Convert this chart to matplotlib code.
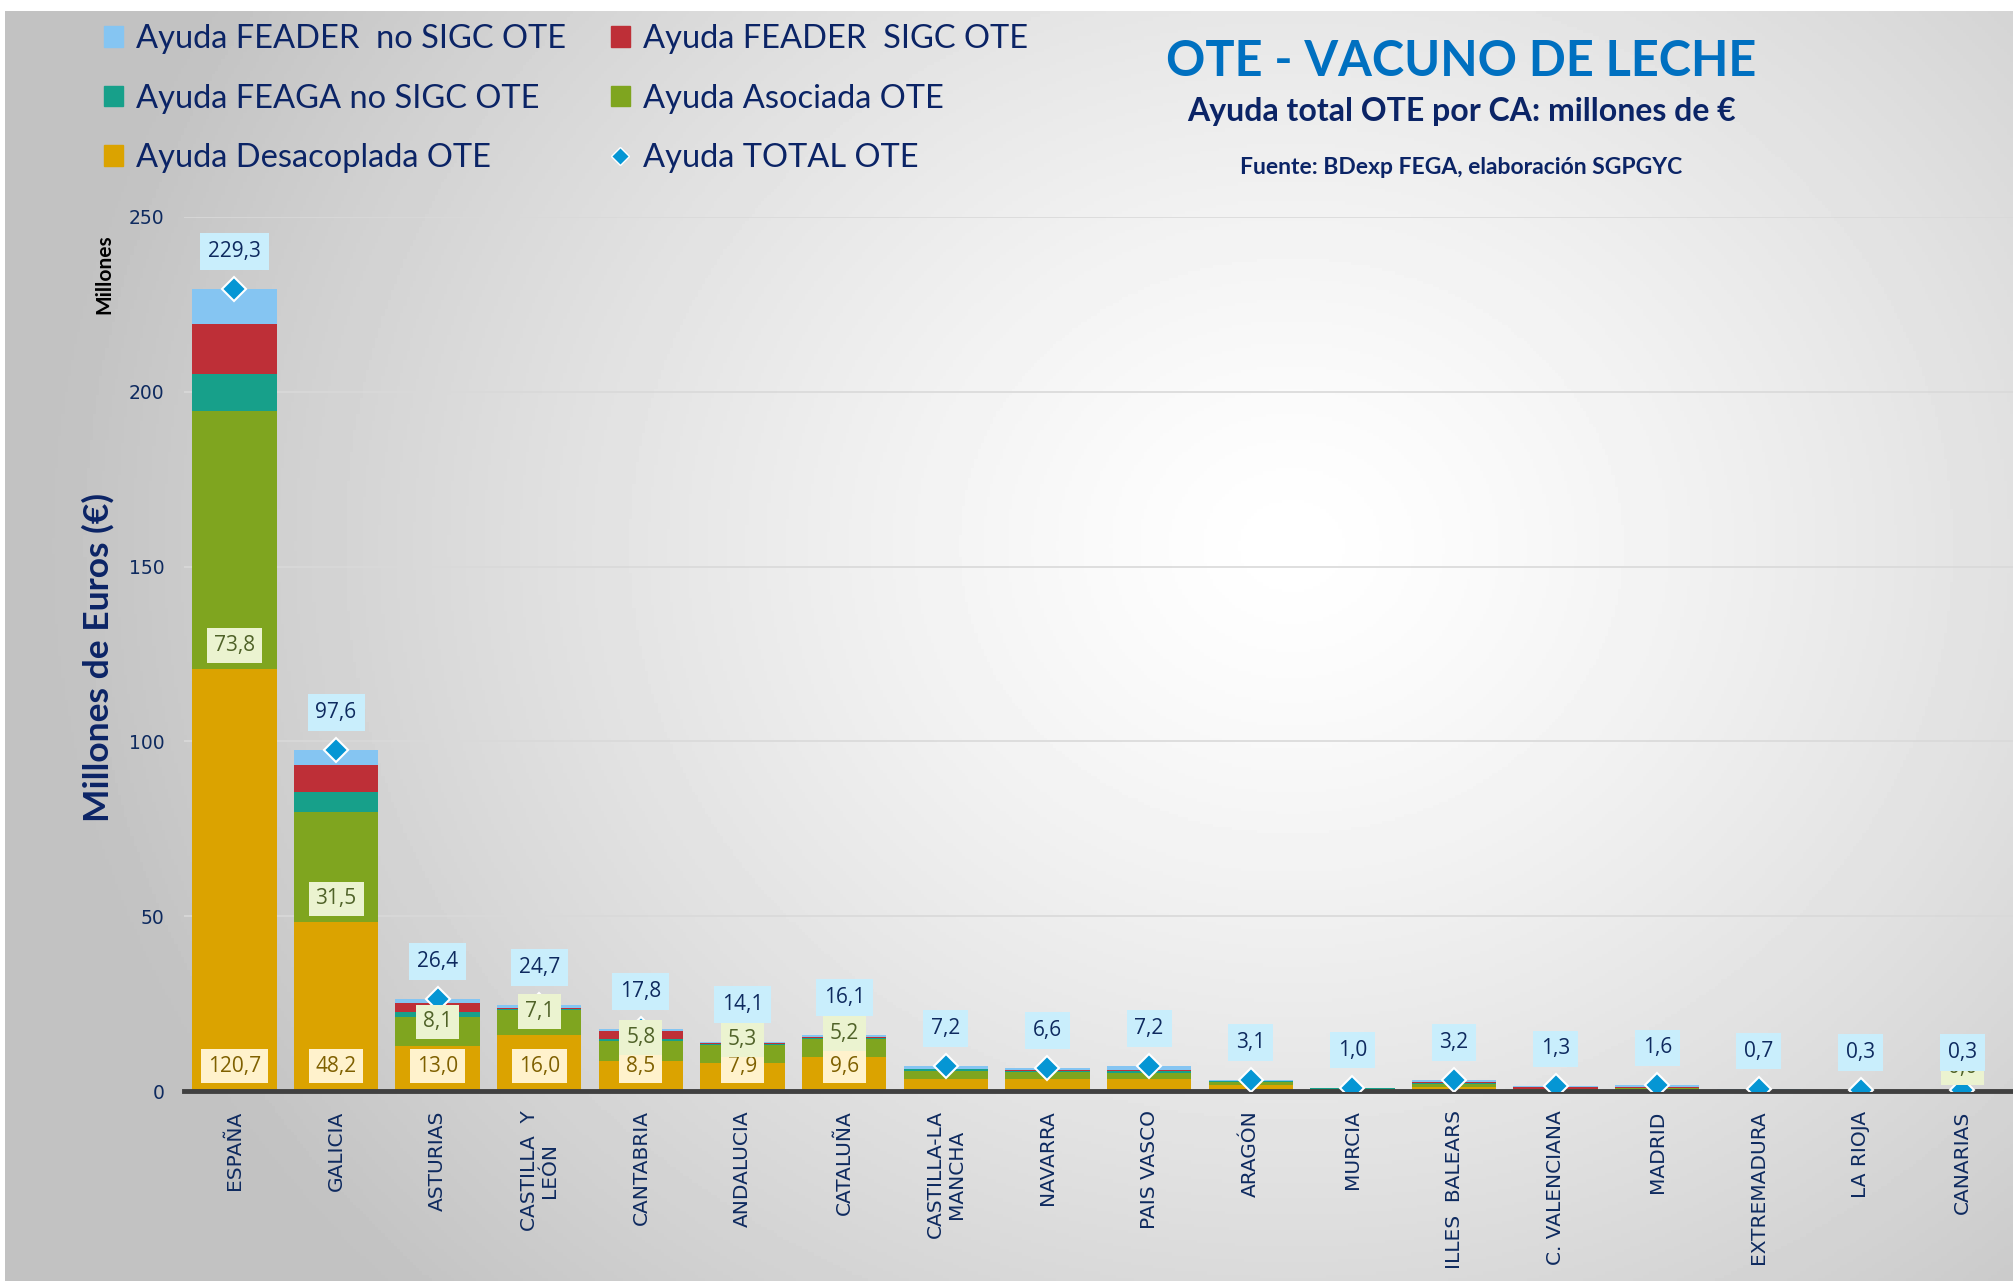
import numpy as np
import matplotlib
matplotlib.use("Agg")
import matplotlib.pyplot as plt
from matplotlib.patches import Patch
from matplotlib.lines import Line2D

categories = ['ESPAÑA', 'GALICIA', 'ASTURIAS', 'CASTILLA  Y\nLEÓN', 'CANTABRIA', 'ANDALUCIA',
              'CATALUÑA', 'CASTILLA-LA\nMANCHA', 'NAVARRA', 'PAIS VASCO', 'ARAGÓN', 'MURCIA',
              'ILLES  BALEARS', 'C. VALENCIANA', 'MADRID', 'EXTREMADURA', 'LA RIOJA', 'CANARIAS']

desacoplada = [120.7, 48.2, 13.0, 16.0, 8.5, 7.9, 9.6, 3.4, 3.4, 3.4, 1.8, 0.2, 1.2, 0.2, 0.4, 0.1, 0.0, 0.0]
asociada = [73.8, 31.5, 8.1, 7.1, 5.8, 5.3, 5.2, 2.3, 1.9, 1.7, 0.9, 0.4, 0.9, 0.4, 0.4, 0.1, 0.0, 0.0]
feaga_no_sigc = [10.6, 5.8, 1.6, 0.4, 0.6, 0.3, 0.4, 0.5, 0.4, 0.5, 0.1, 0.2, 0.3, 0.1, 0.2, 0.1, 0.1, 0.0]
feader_sigc = [14.3, 7.7, 2.4, 0.3, 2.2, 0.3, 0.2, 0.2, 0.2, 0.4, 0.1, 0.0, 0.1, 0.4, 0.1, 0.0, 0.0, 0.0]
feader_no_sigc = [9.9, 4.4, 1.3, 0.9, 0.7, 0.3, 0.7, 0.8, 0.7, 1.2, 0.2, 0.2, 0.7, 0.2, 0.5, 0.4, 0.2, 0.3]
total = [229.3, 97.6, 26.4, 24.7, 17.8, 14.1, 16.1, 7.2, 6.6, 7.2, 3.1, 1.0, 3.2, 1.3, 1.6, 0.7, 0.3, 0.3]

# which bars carry segment labels in the original
desac_labeled = [0, 1, 2, 3, 4, 5, 6]
asoc_labeled = [0, 1, 2, 3, 4, 5, 6, 17]

c_feader_no = '#85C5F2'
c_feader = '#BE2F37'
c_feaga_no = '#17A08A'
c_asoc = '#7FA51F'
c_desac = '#DBA300'
c_total = '#0596D4'
navy = '#0E2A5F'

def fmt(v):
  return ('%.1f' % v).replace('.', ',')

fig = plt.figure(figsize=(20.13, 12.81), dpi=100)

# gradient background
bg = fig.add_axes([0.0025, 0, 0.9975, 0.9914])
h, w = 400, 640
yy, xx = np.mgrid[0:h, 0:w]
r = np.sqrt(((xx / w - 0.64) / 0.62) ** 2 + ((yy / h - 0.42) / 0.85) ** 2)
t = np.clip(r, 0, 1) ** 1.3
img = 1.0 - 0.24 * t
bg.imshow(img, cmap='gray', vmin=0, vmax=1, aspect='auto', extent=[0, 1, 0, 1])
bg.axis('off')

ax = fig.add_axes([0.0912, 0.1483, 0.9088, 0.6824])
ax.set_facecolor('none')
x = np.arange(len(categories))
wd = 0.83

b = np.zeros(len(categories))
series = [(desacoplada, c_desac, 'Ayuda Desacoplada OTE'),
          (asociada, c_asoc, 'Ayuda Asociada OTE'),
          (feaga_no_sigc, c_feaga_no, 'Ayuda FEAGA no SIGC OTE'),
          (feader_sigc, c_feader, 'Ayuda FEADER  SIGC OTE'),
          (feader_no_sigc, c_feader_no, 'Ayuda FEADER  no SIGC OTE')]
for vals, col, lab in series:
  ax.bar(x, vals, wd, bottom=b, color=col, zorder=3, label=lab)
  b = b + np.array(vals)

ax.plot(x, total, linestyle='none', marker='D', markersize=12, color=c_total,
        markeredgecolor='white', markeredgewidth=1.5, zorder=6)

for i in desac_labeled:
  ax.annotate(fmt(desacoplada[i]), (x[i], 0), xytext=(0, 18), textcoords='offset points',
              ha='center', va='center', fontsize=15, family='Open Sans', color='#7F6000', zorder=7,
              bbox=dict(boxstyle='square,pad=0.33', fc='#FFF2CC', ec='none'))
for i in asoc_labeled:
  ax.annotate(fmt(asociada[i]), (x[i], desacoplada[i]), xytext=(0, 17), textcoords='offset points',
              ha='center', va='center', fontsize=15, family='Open Sans', color='#4F6228', zorder=7,
              bbox=dict(boxstyle='square,pad=0.33', fc='#EBF3D0', ec='none'))
for i in range(len(categories)):
  ax.annotate(fmt(total[i]), (x[i], total[i]), xytext=(0, 27), textcoords='offset points',
              ha='center', va='center', fontsize=15, family='Open Sans', color=navy, zorder=8,
              bbox=dict(boxstyle='square,pad=0.38', fc='#C9EEFC', ec='none'))

ax.set_xlim(-0.5, 17.5)
ax.set_ylim(0, 250)
ax.set_yticks([0, 50, 100, 150, 200, 250])
ax.grid(axis='y', color='#D9D9D9', linewidth=1.2, zorder=0)
ax.set_xticks(x)
ax.set_xticklabels(categories, rotation=90, fontsize=14.5, color=navy, va='top', ha='center',
                   linespacing=1.1)
ax.tick_params(axis='y', labelsize=13.5, colors=navy, length=0, pad=14)
ax.tick_params(axis='x', length=0, pad=14)
for s in ['top', 'right', 'left']:
  ax.spines[s].set_visible(False)
ax.spines['bottom'].set_color('#404040')
ax.spines['bottom'].set_linewidth(3.5)
ax.spines['bottom'].set_zorder(5)

fig.text(0.049, 0.487, 'Millones de Euros (€)', rotation=90, ha='center', va='center',
         fontsize=25.5, fontweight='bold', family='Lato', color='#0B2466')
fig.text(0.052, 0.786, 'Millones', rotation=90, ha='center', va='center',
         fontsize=15, fontweight='bold', family='Lato', color='black')

fig.text(0.726, 0.952, 'OTE - VACUNO DE LECHE', ha='center', va='center', fontsize=35,
         fontweight='bold', family='Lato', color='#0070C0')
fig.text(0.726, 0.913, 'Ayuda total OTE por CA: millones de €', ha='center', va='center', fontsize=23,
         fontweight='bold', family='Lato', color='#0B2466')
fig.text(0.726, 0.869, 'Fuente: BDexp FEGA, elaboración SGPGYC', ha='center', va='center', fontsize=16.5,
         fontweight='bold', family='Lato', color='#0B2466')

handles = [Patch(color=c_feader_no, label='Ayuda FEADER  no SIGC OTE'),
           Patch(color=c_feaga_no, label='Ayuda FEAGA no SIGC OTE'),
           Patch(color=c_desac, label='Ayuda Desacoplada OTE'),
           Patch(color=c_feader, label='Ayuda FEADER  SIGC OTE'),
           Patch(color=c_asoc, label='Ayuda Asociada OTE'),
           Line2D([], [], linestyle='none', marker='D', markersize=9, color=c_total,
                  markeredgecolor='white', label='Ayuda TOTAL OTE')]
leg = fig.legend(handles=handles, ncol=2, loc='upper left', bbox_to_anchor=(0.037, 1.004),
                 frameon=False, prop={'family': 'Lato', 'size': 23.5}, labelcolor='#0B2466',
                 handlelength=0.6, handleheight=0.6, handletextpad=0.4, columnspacing=1.35,
                 labelspacing=0.9)

fig.savefig('out.png', dpi=100)
